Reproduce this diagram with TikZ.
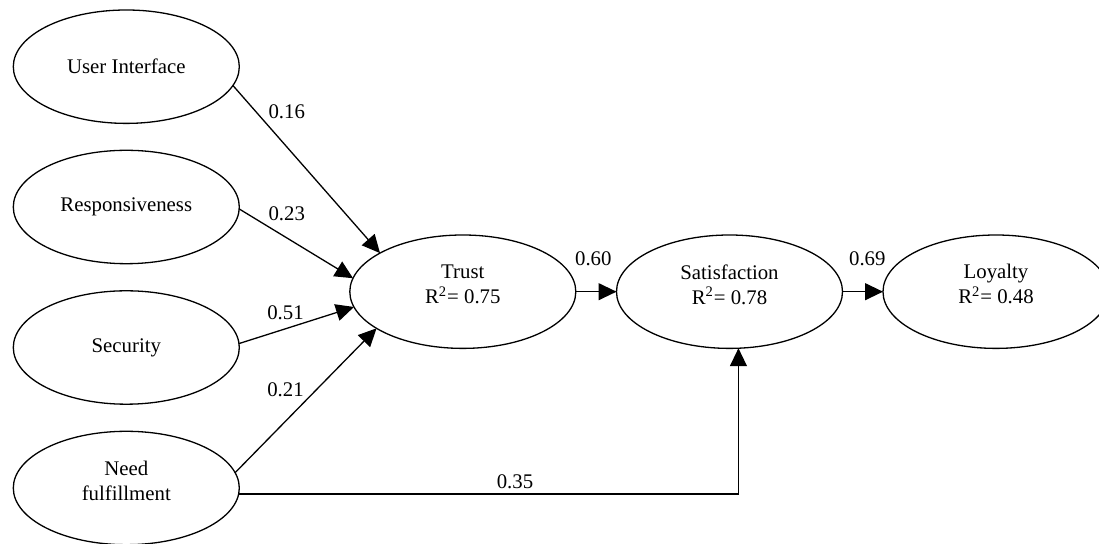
\documentclass[tikz,border=0pt]{standalone}
\usepackage{fontspec}
\setmainfont{Liberation Serif}
\usetikzlibrary{arrows.meta,shapes.geometric}

\begin{document}
\begin{tikzpicture}[x=0.5pt,y=-0.5pt,>={Triangle[length=9pt,width=8.5pt]},font=\fontsize{10.4pt}{12.5pt}\selectfont]
	\tikzstyle{construct}=[ellipse, draw=black, line width=0.65pt, minimum width=113pt, minimum height=56.7pt, inner sep=1pt, outer sep=0pt, align=center]
	\tikzstyle{endog}=[construct, text depth=7.5pt]
	\tikzstyle{effect}=[->, line width=0.65pt]
	\tikzstyle{coef}=[inner sep=0pt]

	\useasboundingbox (0,0) rectangle (1099,544);

	\node [construct] (ui) at (126.3,66.7) {User Interface};
	\node [construct] (resp) at (126.3,207) {Responsiveness};
	\node [construct] (sec) at (126.3,347.5) {Security};
	\node [endog] (need) at (126.3,488) {Need\\fulfillment};
	\node [endog] (trust) at (462.8,291.7) {Trust\\R\textsuperscript{2}= 0.75};
	\node [endog] (sat) at (729.5,291.7) {Satisfaction\\R\textsuperscript{2}= 0.78};
	\node [endog] (loy) at (996,291.7) {Loyalty\\R\textsuperscript{2}= 0.48};

	\draw [effect] (ui.-10) -- (trust.155);
	\draw [effect] (resp.-1) -- (trust.173);
	\draw [effect] (sec.2) -- (trust.188);
	\draw [effect] (need.8) -- (trust.203);
	\draw [effect] (trust) -- (sat);
	\draw [effect] (sat) -- (loy);
	\draw [effect] (need.-3) -| (sat.-81);

	\node [coef] (c16) at (286.7,111.7) {0.16};
	\node [coef] (c23) at (286.7,214) {0.23};
	\node [coef] (c51) at (285.5,312.3) {0.51};
	\node [coef] (c21) at (285.5,390) {0.21};
	\node [coef] (c35) at (515,481.7) {0.35};
	\node [coef] (c60) at (593.3,258.3) {0.60};
	\node [coef] (c69) at (867.3,258.3) {0.69};
\end{tikzpicture}
\end{document}
